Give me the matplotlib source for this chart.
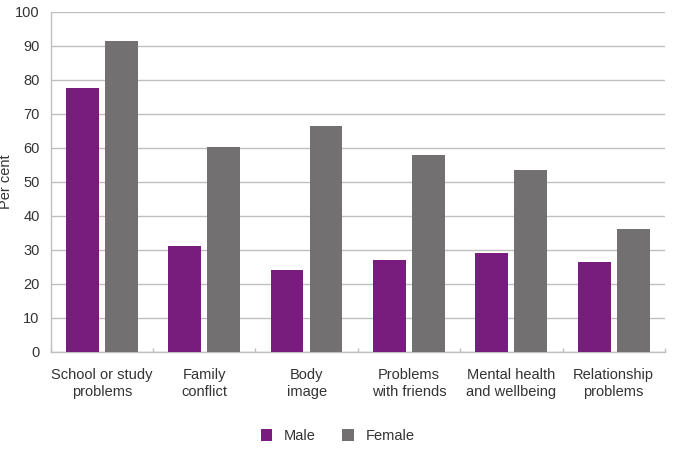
import matplotlib.pyplot as plt
import numpy as np

# data
categories = ['School or study\nproblems', 'Family\nconflict', 'Body\nimage',
              'Problems\nwith friends', 'Mental health\nand wellbeing', 'Relationship\nproblems']
male = [77.7, 31.1, 24.2, 27.0, 29.1, 26.4]
female = [91.5, 60.1, 66.4, 57.9, 53.4, 36.1]

plt.rcParams['font.family'] = ['Liberation Sans', 'DejaVu Sans']
plt.rcParams['font.size'] = 10
text_col = '#333333'
grid_col = '#bfbfbf'

fig = plt.figure(figsize=(6.75, 4.5), dpi=100)
ax = fig.add_axes([0.075, 0.218, 0.910, 0.756])

x = np.arange(len(categories))
w = 0.32
ax.bar(x - 0.19, male, w, color='#781d7e', label='Male', zorder=3)
ax.bar(x + 0.19, female, w, color='#737071', label='Female', zorder=3)

ax.set_xlim(-0.5, len(categories) - 0.5)
ax.set_ylim(0, 100)
ax.set_yticks(range(0, 101, 10))
ax.yaxis.grid(True, color=grid_col, linewidth=1)
ax.set_axisbelow(True)

# category boundary ticks on the x axis
ax.set_xticks(np.arange(-0.5, len(categories)), minor=False)
ax.set_xticklabels([])
ax.tick_params(axis='x', direction='in', length=3, color=grid_col, width=1)
for i, c in enumerate(categories):
    ax.text(i, -4.6, c, ha='center', va='top', color=text_col, fontsize=10.5,
            linespacing=1.3)

ax.tick_params(axis='y', length=0, labelsize=10.5, labelcolor=text_col, pad=8)
ax.set_ylabel('Per cent', color=text_col, fontsize=10.5)
ax.yaxis.set_label_coords(-0.062, 0.5)

for s in ['top', 'right']:
    ax.spines[s].set_visible(False)
for s in ['left', 'bottom']:
    ax.spines[s].set_color(grid_col)
    ax.spines[s].set_linewidth(1)

leg = fig.legend(loc='center', bbox_to_anchor=(0.5, 0.031), ncol=2, frameon=False,
                 handlelength=0.8, handleheight=0.8, handletextpad=0.8,
                 columnspacing=1.8, fontsize=10.5)
for t in leg.get_texts():
    t.set_color(text_col)

fig.savefig('out.png', dpi=100)
